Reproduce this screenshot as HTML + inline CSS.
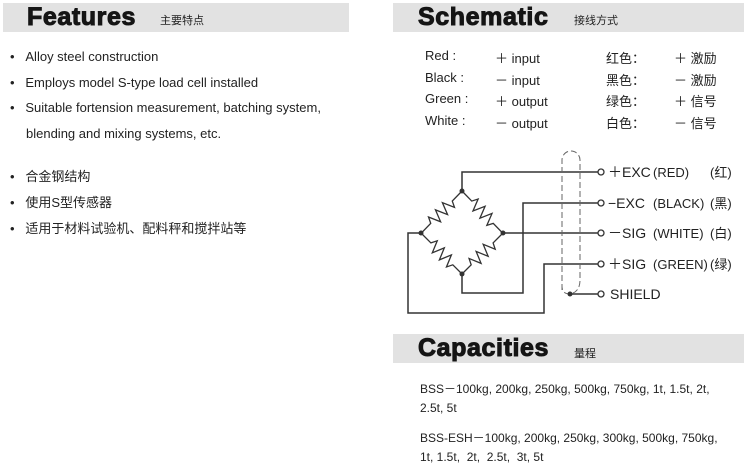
<!DOCTYPE html>
<html><head><meta charset="utf-8"><style>
body{margin:0;width:744px;height:468px;background:#fff;overflow:hidden;position:relative;font-family:"Liberation Sans","Noto Sans CJK SC",sans-serif;color:#222}
.hb{position:absolute;background:#e2e2e2;height:29px}
.ht{position:absolute;font-family:"Liberation Sans",sans-serif;font-weight:bold;font-size:25px;color:#151515;letter-spacing:0.6px;-webkit-text-stroke:1px #151515}
.hs{position:absolute;font-size:11px;color:#222}
.t{position:absolute;font-size:13px;white-space:nowrap}
.b{position:absolute;font-size:13px;white-space:nowrap}
</style></head><body>
<div class="hb" style="left:3px;top:3px;width:346px"></div>
<div class="ht" style="left:27px;top:3px">Features</div>
<div class="hs" style="left:160px;top:12px">主要特点</div>

<div class="hb" style="left:393px;top:3px;width:351px"></div>
<div class="ht" style="left:418px;top:3px">Schematic</div>
<div class="hs" style="left:574px;top:12px">接线方式</div>

<div class="hb" style="left:393px;top:334px;width:351px"></div>
<div class="ht" style="left:418px;top:334px">Capacities</div>
<div class="hs" style="left:574px;top:345px">量程</div>

<div class="t" style="left:10px;top:49px">•&nbsp;&nbsp;&nbsp;Alloy steel construction</div>
<div class="t" style="left:10px;top:75px">•&nbsp;&nbsp;&nbsp;Employs model S-type load cell installed</div>
<div class="t" style="left:10px;top:100px">•&nbsp;&nbsp;&nbsp;Suitable fortension measurement, batching system,</div>
<div class="t" style="left:26px;top:126px">blending and mixing systems, etc.</div>
<div class="t" style="left:10px;top:166px">•&nbsp;&nbsp;&nbsp;合金钢结构</div>
<div class="t" style="left:10px;top:192px">•&nbsp;&nbsp;&nbsp;使用S型传感器</div>
<div class="t" style="left:10px;top:218px">•&nbsp;&nbsp;&nbsp;适用于材料试验机、配料秤和搅拌站等</div>

<div class="t" style="left:425px;top:48px">Red :</div><div class="t" style="left:495px;top:48px">＋ input</div>
<div class="t" style="left:425px;top:70px">Black :</div><div class="t" style="left:495px;top:70px">－ input</div>
<div class="t" style="left:425px;top:91px">Green :</div><div class="t" style="left:495px;top:91px">＋ output</div>
<div class="t" style="left:425px;top:113px">White :</div><div class="t" style="left:495px;top:113px">－ output</div>
<div class="t" style="left:606px;top:48px">红色：</div><div class="t" style="left:674px;top:48px">＋ 激励</div>
<div class="t" style="left:606px;top:70px">黑色：</div><div class="t" style="left:674px;top:70px">－ 激励</div>
<div class="t" style="left:606px;top:91px">绿色：</div><div class="t" style="left:674px;top:91px">＋ 信号</div>
<div class="t" style="left:606px;top:113px">白色：</div><div class="t" style="left:674px;top:113px">－ 信号</div>

<svg style="position:absolute;left:0;top:0" width="744" height="468">
<g stroke="#333" stroke-width="1.5" fill="none">
<polyline points="462,191 462,172 598,172"/>
<polyline points="462,274 462,293 523,293 523,203 598,203"/>
<polyline points="503,233 598,233"/>
<polyline points="421,233 408,233 408,313 544,313 544,264 598,264"/>
<line x1="570" y1="294" x2="598" y2="294"/>
</g>
<g stroke="#333" stroke-width="1.3" fill="none">
<path transform="translate(462,191) rotate(134)" d="M0,0 H14 L17,-6 L22,6 L27,-6 L32,6 L37,-6 L42,6 L45,0 H58.7"/>
<path transform="translate(462,191) rotate(46)" d="M0,0 H14 L17,-6 L22,6 L27,-6 L32,6 L37,-6 L42,6 L45,0 H58.7"/>
<path transform="translate(421,233) rotate(45)" d="M0,0 H14 L17,-6 L22,6 L27,-6 L32,6 L37,-6 L42,6 L45,0 H58"/>
<path transform="translate(503,233) rotate(135)" d="M0,0 H14 L17,-6 L22,6 L27,-6 L32,6 L37,-6 L42,6 L45,0 H58"/>
</g>
<g stroke="#666" stroke-width="1" fill="none" stroke-dasharray="6,3">
<path d="M562,290 V160 A9,9 0 0 1 580,160 V280 Q580,292 570,294 Q562,294 562,286"/>
</g>
<g fill="#333">
<circle cx="462" cy="191" r="2.5"/><circle cx="462" cy="274" r="2.5"/>
<circle cx="421" cy="233" r="2.5"/><circle cx="503" cy="233" r="2.5"/>
<circle cx="570" cy="294" r="2.5"/>
</g>
<g fill="#fff" stroke="#333" stroke-width="1.3">
<circle cx="601" cy="172" r="3"/><circle cx="601" cy="203" r="3"/><circle cx="601" cy="233" r="3"/><circle cx="601" cy="264" r="3"/><circle cx="601" cy="294" r="3"/>
</g>
<g font-family="Liberation Sans,Noto Sans CJK SC,sans-serif" font-size="14" fill="#222">
<text x="608" y="177">＋EXC</text><text x="653" y="177" font-size="13">(RED)</text><text x="710" y="177" font-size="13">(红)</text>
<text x="608" y="208">−EXC</text><text x="653" y="208" font-size="13">(BLACK)</text><text x="710" y="208" font-size="13">(黑)</text>
<text x="608" y="238">－SIG</text><text x="653" y="238" font-size="13">(WHITE)</text><text x="710" y="238" font-size="13">(白)</text>
<text x="608" y="269">＋SIG</text><text x="653" y="269" font-size="13">(GREEN)</text><text x="710" y="269" font-size="13">(绿)</text>
<text x="610" y="299">SHIELD</text>
</g>
</svg>

<div class="b" style="left:420px;top:380px;font-size:12px">BSS－100kg, 200kg, 250kg, 500kg, 750kg, 1t, 1.5t, 2t,</div>
<div class="b" style="left:420px;top:401px;font-size:12px">2.5t, 5t</div>
<div class="b" style="left:420px;top:429px;font-size:12px">BSS-ESH－100kg, 200kg, 250kg, 300kg, 500kg, 750kg,</div>
<div class="b" style="left:420px;top:450px;font-size:12px">1t, 1.5t,&nbsp; 2t,&nbsp; 2.5t,&nbsp; 3t, 5t</div>
</body></html>
